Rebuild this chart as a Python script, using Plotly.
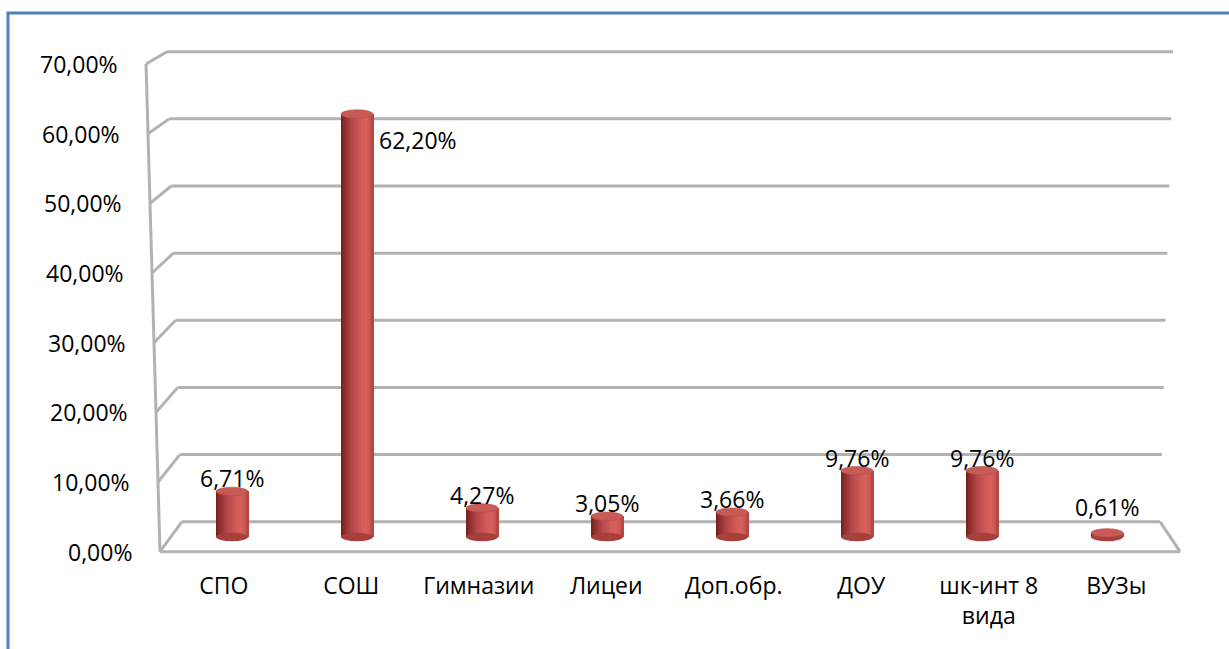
import plotly.graph_objects as go

# ---- data -------------------------------------------------------------
categories = ["СПО", "СОШ", "Гимназии", "Лицеи", "Доп.обр.", "ДОУ", "шк-инт 8 вида", "ВУЗы"]
category_labels = ["СПО", "СОШ", "Гимназии", "Лицеи", "Доп.обр.", "ДОУ", "шк-инт 8<br>вида", "ВУЗы"]
shares = [6.71, 62.20, 4.27, 3.05, 3.66, 9.76, 9.76, 0.61]
y_ticks = [0, 10, 20, 30, 40, 50, 60, 70]
y_tick_labels = ["0,00%", "10,00%", "20,00%", "30,00%", "40,00%", "50,00%", "60,00%", "70,00%"]

# ---- canvas / pseudo-3D projection ------------------------------------
W, H = 1229, 649
FONT = "Open Sans"
TXT = 23

# plane through the cylinders (bars)
BAR_X0, BAR_STEP = 232.0, 125.0
BAR_Y0, BAR_SCALE = 537.0, 6.8
BAR_W = 0.256

# front plane (tick labels, category labels)
FRONT_X0, FRONT_STEP = 223.75, 127.5
FRONT_Y0, FRONT_SCALE = 551.7, 6.967

# back wall
BACK_Y0, BACK_SCALE = 521.7, 6.714

# data labels never sit lower than this level
LABEL_FLOOR = 2.5


def fx(px):
    return px / W


def fy(py):
    return (H - py) / H


def front_edge_x(v):
    return 160 - 14 * v / 70


def back_left_x(v):
    return 182 - 15 * v / 70


def back_right_x(v):
    return 1160 + 13 * v / 70


def front_y(v):
    return FRONT_Y0 - FRONT_SCALE * v


def back_y(v):
    return BACK_Y0 - BACK_SCALE * v


def hex_to_rgb(h):
    h = h.lstrip("#")
    return tuple(int(h[i:i + 2], 16) for i in (0, 2, 4))


def blend(stops, t):
    for (t0, c0), (t1, c1) in zip(stops, stops[1:]):
        if t0 <= t <= t1:
            a = (t - t0) / (t1 - t0) if t1 > t0 else 0
            r0, g0, b0 = hex_to_rgb(c0)
            r1, g1, b1 = hex_to_rgb(c1)
            return "rgb(%d,%d,%d)" % (r0 + (r1 - r0) * a, g0 + (g1 - g0) * a, b0 + (b1 - b0) * a)
    return stops[-1][1]


shade = [(0.0, "#6e1f1d"), (0.12, "#8e312e"), (0.35, "#b6474a"),
         (0.62, "#d05b57"), (0.8, "#d6625e"), (0.93, "#c4534f"), (1.0, "#a8403d")]

fig = go.Figure()

# cylinder bodies: thin overlapping strips give the round shading
N_STRIPS = 16
strip = BAR_W / N_STRIPS
for k in range(N_STRIPS):
    fig.add_trace(go.Bar(
        x=list(range(len(categories))), y=shares,
        width=strip * 1.35, offset=-BAR_W / 2 + k * strip,
        marker=dict(color=blend(shade, (k + 0.5) / N_STRIPS), line=dict(width=0)),
        hoverinfo="skip", showlegend=False,
    ))

# helper trace that carries the front-plane axes
fig.add_trace(go.Scatter(
    x=list(range(len(categories))), y=[None] * len(categories),
    xaxis="x2", yaxis="y2", mode="markers", showlegend=False, hoverinfo="skip",
))

shapes = []
line_style = dict(color="#b2b2b2", width=3)

# back wall gridlines and side-wall connectors
for v in y_ticks:
    shapes.append(dict(type="line", xref="paper", yref="paper", layer="below",
                       x0=fx(back_left_x(v)), y0=fy(back_y(v)),
                       x1=fx(back_right_x(v)), y1=fy(back_y(v)), line=line_style))
    shapes.append(dict(type="line", xref="paper", yref="paper", layer="below",
                       x0=fx(front_edge_x(v)), y0=fy(front_y(v)),
                       x1=fx(back_left_x(v)), y1=fy(back_y(v)), line=line_style))

# front vertical edge, front floor edge, right floor edge
top = y_ticks[-1]
shapes.append(dict(type="line", xref="paper", yref="paper", layer="below",
                   x0=fx(front_edge_x(0)), y0=fy(front_y(0)),
                   x1=fx(front_edge_x(top)), y1=fy(front_y(top)), line=line_style))
shapes.append(dict(type="line", xref="paper", yref="paper", layer="below",
                   x0=fx(front_edge_x(0)), y0=fy(front_y(0)),
                   x1=fx(1180), y1=fy(front_y(0)), line=line_style))
shapes.append(dict(type="line", xref="paper", yref="paper", layer="below",
                   x0=fx(back_right_x(0)), y0=fy(back_y(0)),
                   x1=fx(1180), y1=fy(front_y(0)), line=line_style))

# cylinder caps
cap = 4.2 / BAR_SCALE
for i, v in enumerate(shares):
    shapes.append(dict(type="circle", xref="x", yref="y", layer="above",
                       x0=i - BAR_W / 2, x1=i + BAR_W / 2, y0=-cap, y1=cap,
                       fillcolor="#a6403d", line=dict(width=0)))
for i, v in enumerate(shares):
    shapes.append(dict(type="circle", xref="x", yref="y", layer="above",
                       x0=i - BAR_W / 2, x1=i + BAR_W / 2, y0=v - cap, y1=v + cap,
                       fillcolor="#c95b57", line=dict(color="#b54d49", width=0.6)))

# outer frame
shapes.append(dict(type="path", xref="paper", yref="paper", layer="above",
                   path="M %f,%f L %f,%f L %f,%f" % (fx(8), fy(H + 5), fx(8), fy(13), fx(W + 5), fy(13)),
                   line=dict(color="#4f81bd", width=3)))

annotations = []
# value axis labels on the front edge
for v, t in zip(y_ticks, y_tick_labels):
    annotations.append(dict(xref="paper", yref="y2", x=fx(front_edge_x(v) - 26), y=v,
                            text=t, showarrow=False, xanchor="right", yanchor="middle",
                            font=dict(family=FONT, size=TXT, color="#000000")))

# data labels
peak = max(shares)
for i, v in enumerate(shares):
    text = ("%.2f" % v).replace(".", ",") + "%"
    if v == peak and v > 55:
        annotations.append(dict(xref="x", yref="y", x=i + BAR_W / 2, y=v, text=text,
                                showarrow=False, xanchor="left", yanchor="middle",
                                xshift=4, yshift=-26,
                                font=dict(family=FONT, size=TXT, color="#000000")))
    else:
        annotations.append(dict(xref="x", yref="y", x=i, y=max(v, LABEL_FLOOR), text=text,
                                showarrow=False, xanchor="center", yanchor="middle",
                                yshift=13,
                                font=dict(family=FONT, size=TXT, color="#000000")))

fig.update_layout(
    width=W, height=H,
    margin=dict(l=0, r=0, t=0, b=0),
    paper_bgcolor="#ffffff", plot_bgcolor="rgba(0,0,0,0)",
    barmode="overlay", bargap=0,
    showlegend=False,
    font=dict(family=FONT, size=TXT, color="#000000"),
    xaxis=dict(domain=[0, 1], range=[(0 - BAR_X0) / BAR_STEP, (W - BAR_X0) / BAR_STEP],
               visible=False, fixedrange=True),
    yaxis=dict(domain=[0, 1], range=[(BAR_Y0 - H) / BAR_SCALE, BAR_Y0 / BAR_SCALE],
               visible=False, fixedrange=True),
    xaxis2=dict(overlaying="x", anchor="free", position=fy(570), side="bottom",
                range=[(0 - FRONT_X0) / FRONT_STEP, (W - FRONT_X0) / FRONT_STEP],
                tickmode="array", tickvals=list(range(len(categories))), ticktext=category_labels,
                showgrid=False, zeroline=False, showline=False, ticks="",
                tickfont=dict(family=FONT, size=TXT, color="#000000"), fixedrange=True),
    yaxis2=dict(overlaying="y", range=[(FRONT_Y0 - H) / FRONT_SCALE, FRONT_Y0 / FRONT_SCALE],
                visible=False, fixedrange=True),
    shapes=shapes,
    annotations=annotations,
)

fig.write_html("out.html", config={"displayModeBar": False})
